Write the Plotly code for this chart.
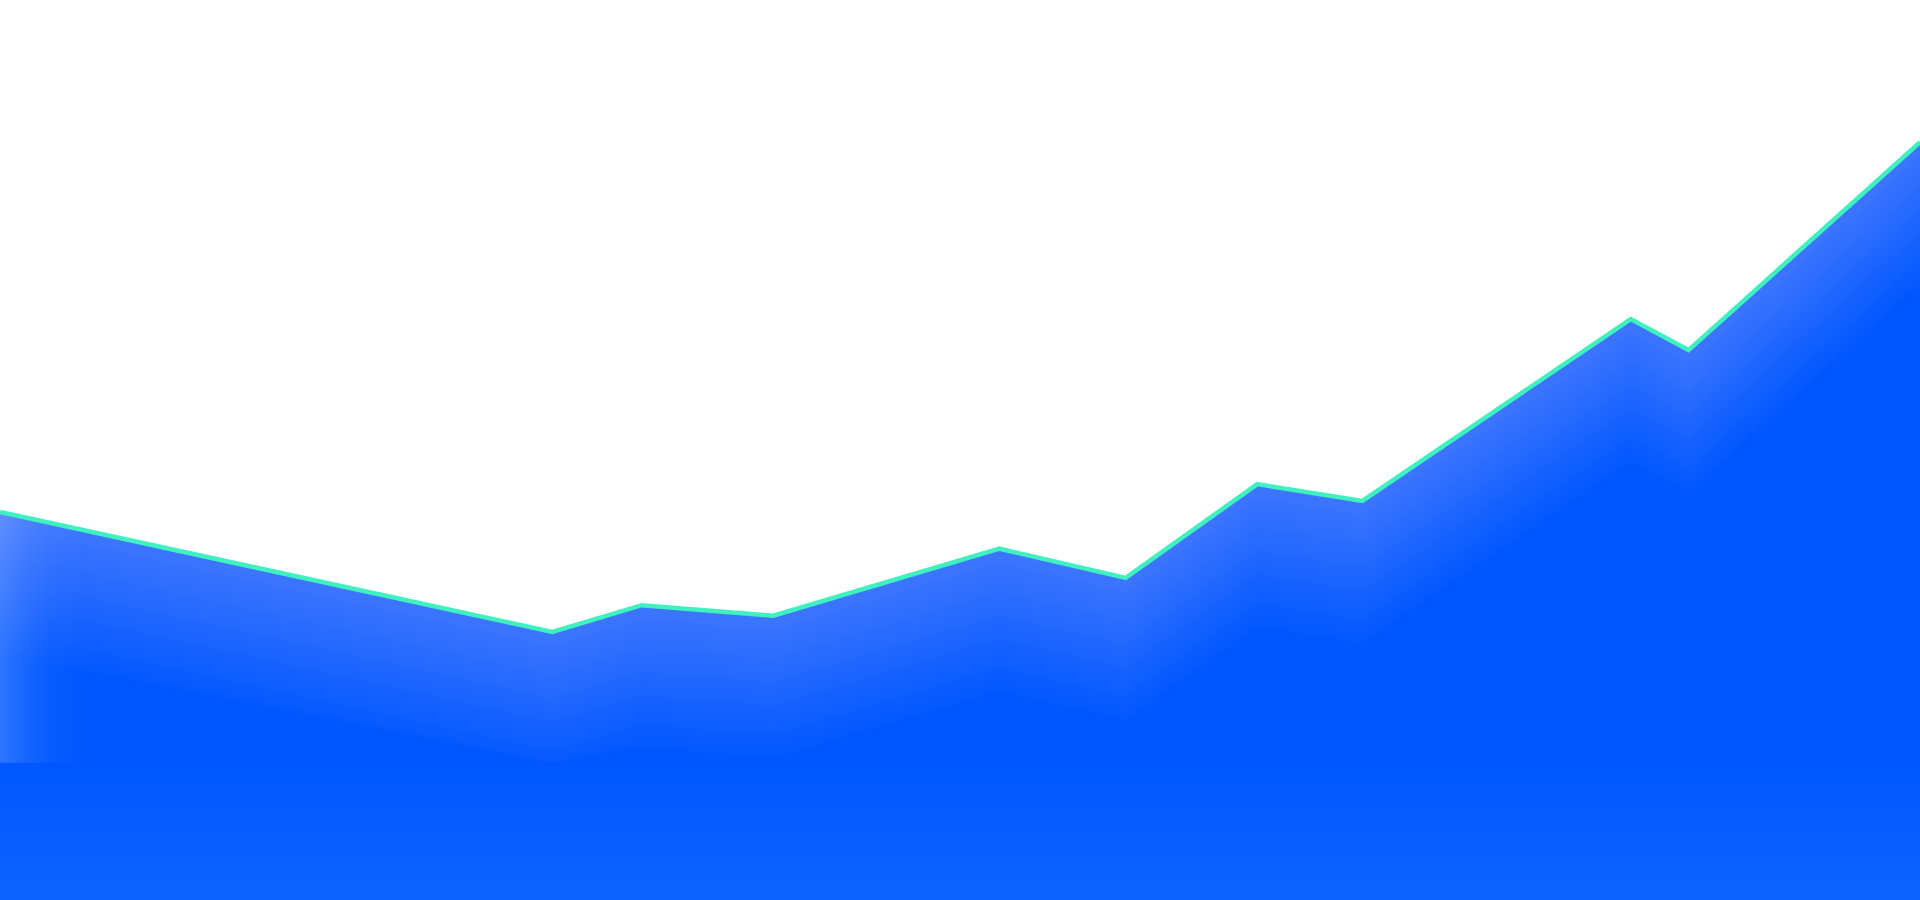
import plotly.graph_objects as go

# day of year for each reading (2023), last one is 1 Jan 2024
days = [0, 105, 122, 147, 190, 214, 239, 259, 310, 321, 365]
values = [40.4, 21.1, 25.4, 23.7, 34.5, 29.8, 44.9, 42.2, 71.5, 66.5, 100.0]

y_min, y_max = -22.1, 122.9

line_col = "#3FF0C0"
blue = "#0057FF"

fig = go.Figure()

# floor trace so the main area runs down to the bottom edge
fig.add_trace(go.Scatter(x=days, y=[y_min] * len(days), mode="lines",
                         line=dict(width=0), hoverinfo="skip"))
fig.add_trace(go.Scatter(x=days, y=values, mode="lines", line=dict(width=0),
                         fill="tonexty", hoverinfo="skip",
                         fillgradient=dict(type="vertical", start=y_min, stop=0,
                                           colorscale=[[0, "#0D63FF"], [1, blue]])))

# soft light band under the line, stacked thin layers
n_bands = 30
glow_depth = 23
for k in range(1, n_bands + 1):
    d = glow_depth * k / n_bands
    lower = [max(v - d, 0) for v in values]
    fig.add_trace(go.Scatter(x=days, y=lower, mode="lines", line=dict(width=0),
                             hoverinfo="skip"))
    fig.add_trace(go.Scatter(x=days, y=values, mode="lines", line=dict(width=0),
                             fill="tonexty", fillcolor="rgba(255,255,255,0.011)",
                             hoverinfo="skip"))

# light on the left edge
fig.add_trace(go.Scatter(x=days, y=values, mode="lines", line=dict(width=0),
                         fill="tozeroy", hoverinfo="skip",
                         fillgradient=dict(type="horizontal", start=0, stop=16,
                                           colorscale=[[0, "rgba(255,255,255,0.18)"],
                                                       [0.3, "rgba(255,255,255,0.09)"],
                                                       [0.6, "rgba(255,255,255,0.03)"],
                                                       [1, "rgba(255,255,255,0)"]])))

fig.add_trace(go.Scatter(x=days, y=values, mode="lines",
                         line=dict(color=line_col, width=4.5)))

fig.update_layout(
    width=1920, height=900,
    margin=dict(l=0, r=0, t=0, b=0),
    paper_bgcolor="white", plot_bgcolor="white",
    showlegend=False,
    xaxis=dict(range=[0, 365], showgrid=False, zeroline=False, showticklabels=False,
               ticks="", showline=True, linecolor="#168BEF", linewidth=4),
    yaxis=dict(range=[y_min, y_max], showgrid=False, zeroline=False,
               showticklabels=False, ticks=""),
)

fig.write_html("out.html", config={"displayModeBar": False},
               post_script="document.body.style.margin='0';")
